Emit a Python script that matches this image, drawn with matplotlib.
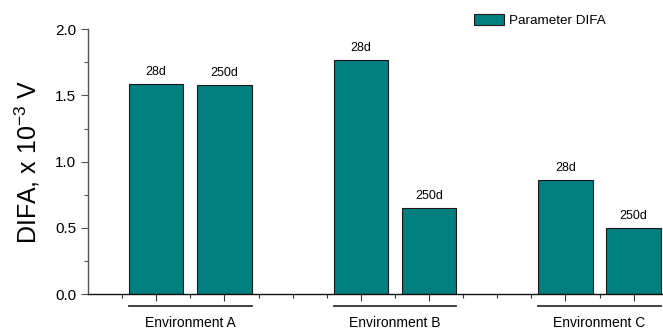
import matplotlib
matplotlib.use("Agg")
import matplotlib.pyplot as plt
from matplotlib.ticker import MultipleLocator, FixedLocator

plt.rcParams['font.family'] = ['Liberation Sans', 'DejaVu Sans']
plt.rcParams['mathtext.fontset'] = 'custom'
plt.rcParams['mathtext.rm'] = 'Liberation Sans'
plt.rcParams['mathtext.it'] = 'Liberation Sans:italic'
plt.rcParams['mathtext.bf'] = 'Liberation Sans:bold'

groups = ["Environment A", "Environment B", "Environment C"]
ages = ["28d", "250d"]
values = [1.59, 1.58, 1.77, 0.65, 0.86, 0.50]
bar_labels = ["28d", "250d", "28d", "250d", "28d", "250d"]
positions = [2, 4, 8, 10, 14, 16]
legend_label = "Parameter DIFA"
ylabel = "DIFA, x 10$^{\\mathregular{-3}}$ V"

fig = plt.figure(figsize=(6.63, 3.32), dpi=100)
ax = fig.add_axes([88/663, 1-294/332, 1-88/663, (294-29.3)/332])

color = "#017f7e"
bars = ax.bar(positions, values, width=1.6, color=color, edgecolor="#1a1a1a",
              linewidth=0.8, label=legend_label)
for x, v, t in zip(positions, values, bar_labels):
    ax.text(x, v + 0.045, t, ha="center", va="bottom", fontsize=9)

ax.set_xlim(0, 16.86)
ax.set_ylim(0, 2.0)
ax.yaxis.set_major_locator(MultipleLocator(0.5))
ax.yaxis.set_minor_locator(MultipleLocator(0.25))
ax.yaxis.set_major_formatter(matplotlib.ticker.FormatStrFormatter("%.1f"))
ax.xaxis.set_major_locator(FixedLocator(positions))
ax.xaxis.set_minor_locator(FixedLocator([1, 3, 5, 6, 7, 9, 11, 12, 13, 15]))
ax.set_xticklabels([])
ax.tick_params(axis="x", which="major", length=5, width=0.8, color="#333333")
ax.tick_params(axis="x", which="minor", length=3, width=0.8, color="#333333")
ax.tick_params(axis="y", which="major", length=5, width=0.8, color="#555555", labelsize=11)
ax.tick_params(axis="y", which="minor", length=3, width=0.8, color="#555555")
for s in ["top", "right"]:
    ax.spines[s].set_visible(False)
ax.spines["left"].set_color("#555555")
ax.spines["bottom"].set_color("#111111")
ax.spines["left"].set_linewidth(1.0)
ax.spines["bottom"].set_linewidth(1.0)

ax.set_ylabel(ylabel, fontsize=18)
ax.yaxis.set_label_coords(-0.08, 0.5)

# group underlines and labels
trans = ax.get_xaxis_transform()
for i, g in enumerate(groups):
    a, b = positions[2*i] - 0.8, positions[2*i+1] + 0.8
    ax.plot([a, b], [-0.045, -0.045], transform=trans, color="#333333",
            linewidth=1.3, clip_on=False)
    ax.text((a + b) / 2, -0.108, g, transform=trans, ha="center", va="center",
            fontsize=10)

leg = ax.legend(loc="upper left", bbox_to_anchor=(465/663, 0.985), bbox_transform=fig.transFigure,
                frameon=False, fontsize=9.7, handlelength=2.2, handleheight=0.85,
                handletextpad=0.4, borderaxespad=0.3)

fig.savefig("out.png", dpi=100)
